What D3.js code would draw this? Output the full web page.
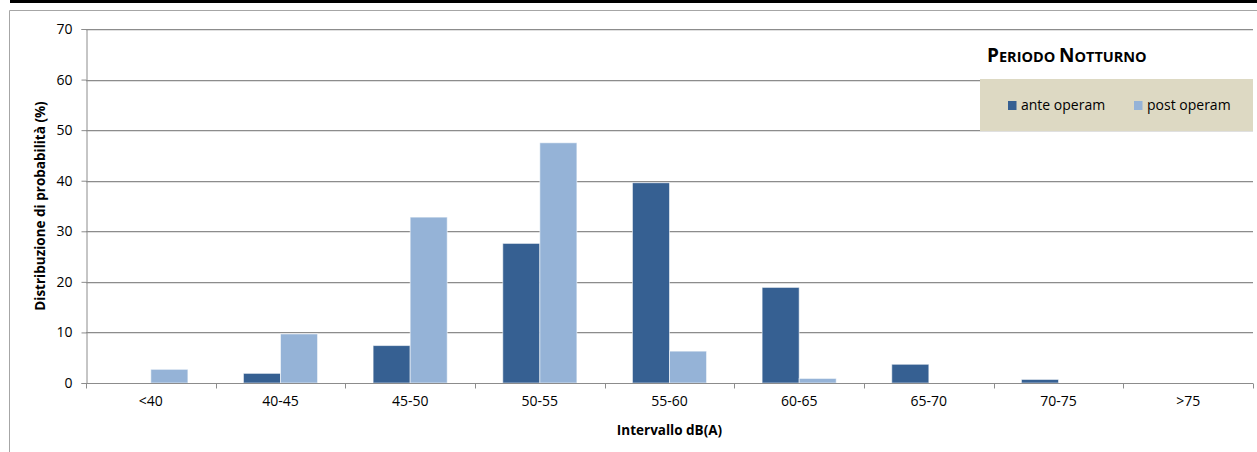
<!DOCTYPE html>
<html>
<head>
<meta charset="utf-8">
<script src="https://d3js.org/d3.v7.min.js"></script>
<style>
  body { margin: 0; background: #fff; }
  svg text { font-family: "Open Sans", "Noto Sans", sans-serif; fill: #000; }
</style>
</head>
<body>
<svg id="chart" width="1257" height="452"></svg>
<script>
// intervalli e distribuzioni (%)
var categories = ["<40", "40-45", "45-50", "50-55", "55-60", "60-65", "65-70", "70-75", ">75"];
var anteOperam = [0, 1.9, 7.4, 27.6, 39.6, 18.9, 3.7, 0.7, 0];
var postOperam = [2.7, 9.7, 32.8, 47.5, 6.3, 0.9, 0, 0, 0];
var seriesNames = ["ante operam", "post operam"];
var seriesColors = ["#366092", "#95b3d7"];
var yTicks = [0, 10, 20, 30, 40, 50, 60, 70];

var svg = d3.select("#chart");

// cornice
svg.append("rect").attr("x", 10).attr("y", 0).attr("width", 1247).attr("height", 3).attr("fill", "#000");
svg.append("path").attr("d", "M9.5 460V10.5H1260").attr("fill", "none").attr("stroke", "#a6a6a6").attr("stroke-width", 1);

var plotL = 86, plotR = 1253, plotT = 29, plotB = 383;

var x = d3.scaleBand().domain(categories).range([plotL, plotR]);
var y = d3.scaleLinear().domain([0, 70]).range([plotB, plotT]);
var inner = d3.scaleBand().domain(seriesNames).range([0, x.bandwidth()]).paddingInner(0).paddingOuter(0.75);

// griglia
var grid = svg.append("g");
grid.selectAll("line.shadow").data(yTicks.slice(1)).enter().append("line")
    .attr("class", "shadow")
    .attr("x1", plotL).attr("x2", plotR)
    .attr("y1", function (d) { return Math.round(y(d)) + 1.5; })
    .attr("y2", function (d) { return Math.round(y(d)) + 1.5; })
    .attr("stroke", "#e0e0e0");
grid.selectAll("line.main").data(yTicks.slice(1)).enter().append("line")
    .attr("class", "main")
    .attr("x1", plotL).attr("x2", plotR)
    .attr("y1", function (d) { return Math.round(y(d)) + 0.5; })
    .attr("y2", function (d) { return Math.round(y(d)) + 0.5; })
    .attr("stroke", "#8c8c8c");

// barre
var data = categories.map(function (c, i) {
    return { cat: c, values: [anteOperam[i], postOperam[i]] };
});
var groups = svg.selectAll("g.cat").data(data).enter().append("g")
    .attr("class", "cat")
    .attr("transform", function (d) { return "translate(" + x(d.cat) + ",0)"; });
groups.selectAll("rect").data(function (d) {
        return d.values.map(function (v, j) { return { name: seriesNames[j], v: v, j: j }; });
    })
    .enter().append("rect")
    .filter(function (d) { return d.v > 0; })
    .attr("x", function (d) { return inner(d.name); })
    .attr("width", inner.bandwidth())
    .attr("y", function (d) { return y(d.v); })
    .attr("height", function (d) { return plotB - y(d.v); })
    .attr("fill", function (d) { return seriesColors[d.j]; })
    .attr("stroke", "#ffffff").attr("stroke-opacity", 0.55).attr("stroke-width", 1);

// assi
var yAxis = svg.append("g").attr("transform", "translate(" + (plotL + 0.5) + ",0)")
    .call(d3.axisLeft(y).tickValues(yTicks).tickSize(5).tickPadding(9));
var xAxis = svg.append("g").attr("transform", "translate(0," + (plotB + 0.5) + ")")
    .call(d3.axisBottom(x).tickSize(0).tickPadding(13));
// tacche tra le categorie
xAxis.selectAll("line.sep").data(d3.range(categories.length + 1)).enter().append("line")
    .attr("class", "sep")
    .attr("x1", function (i) { return Math.round(plotL + i * x.step()) + 0.5; })
    .attr("x2", function (i) { return Math.round(plotL + i * x.step()) + 0.5; })
    .attr("y1", 0).attr("y2", 5)
    .attr("stroke", "#8c8c8c");
[yAxis, xAxis].forEach(function (a) {
    a.select(".domain").attr("stroke", "#8c8c8c");
    a.selectAll(".tick line").attr("stroke", "#8c8c8c");
    a.selectAll("text").attr("font-size", 14).attr("font-family", "Open Sans, sans-serif").attr("fill", "#000");
});
xAxis.select(".domain").attr("d", "M" + plotL + ",0H" + plotR);

// titoli assi
svg.append("text").attr("x", (plotL + plotR) / 2).attr("y", 435)
    .attr("text-anchor", "middle").attr("font-size", 13.5).attr("font-weight", "bold")
    .text("Intervallo dB(A)");
svg.append("text").attr("transform", "translate(45,206) rotate(-90)")
    .attr("text-anchor", "middle").attr("font-size", 13.5).attr("font-weight", "bold")
    .text("Distribuzione di probabilità (%)");

// titolo
var title = svg.append("text").attr("x", 987).attr("y", 62).attr("font-weight", "bold");
title.append("tspan").attr("font-size", 19).text("P");
title.append("tspan").attr("font-size", 14.5).text("ERIODO ");
title.append("tspan").attr("font-size", 19).text("N");
title.append("tspan").attr("font-size", 14.5).text("OTTURNO");

// legenda
var legend = svg.append("g");
legend.append("rect").attr("x", 980).attr("y", 79).attr("width", 273).attr("height", 52).attr("fill", "#ddd9c3");
var legX = [1008, 1134];
seriesNames.forEach(function (n, i) {
    legend.append("rect").attr("x", legX[i]).attr("y", 101).attr("width", 8.5).attr("height", 9).attr("fill", seriesColors[i]);
    legend.append("text").attr("x", legX[i] + 13).attr("y", 110).attr("font-size", 14).text(n);
});
</script>
</body>
</html>
